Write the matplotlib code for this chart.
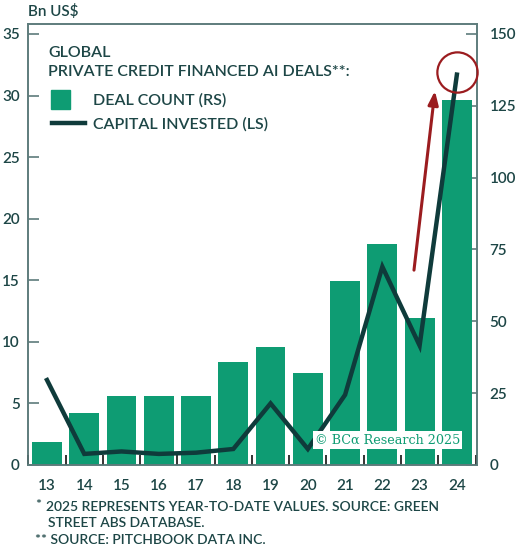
import matplotlib
matplotlib.use("Agg")
import matplotlib.pyplot as plt
from matplotlib.patches import Rectangle
from matplotlib.lines import Line2D
import numpy as np

# data
years = [13, 14, 15, 16, 17, 18, 19, 20, 21, 22, 23, 24]
deal_count = [8, 18, 24, 24, 24, 36, 41, 32, 64, 77, 51, 127]          # right scale
capital_bn = [6.9, 0.9, 1.1, 0.9, 1.0, 1.3, 5.0, 1.3, 5.7, 16.1, 9.7, 31.7]  # left scale
left_ticks = [0, 5, 10, 15, 20, 25, 30, 35]
right_ticks = [0, 25, 50, 75, 100, 125, 150]

GREEN = "#0e9c73"
DARK = "#0f3b3b"
TEXT = "#1d4646"
SPINE = "#5e7c7c"
RED = "#9b1c1f"
FONT = "Lato"

plt.rcParams["font.family"] = [FONT, "DejaVu Sans"]

W, H = 520, 553
fig = plt.figure(figsize=(W / 100, H / 100), dpi=100)
ax = fig.add_axes([28 / W, 1 - 465 / H, (477 - 28) / W, (465 - 24) / H])
ax2 = ax.twinx()

ymax_left = 35.81
ax.set_ylim(0, ymax_left)
ax2.set_ylim(0, ymax_left * 150 / 35)
ax.set_xlim(12.49, 24.54)

ax2.bar(years, deal_count, width=0.8, color=GREEN, zorder=2)
ax.plot(years, capital_bn, color=DARK, lw=3.2, solid_joinstyle="miter", zorder=3)

# put the line axes above the bar axes
ax.set_zorder(ax2.get_zorder() + 1)
ax.patch.set_visible(False)

# highlight: arrow and circle on the 24 peak
ax.annotate("", xy=(23.42, 30.6), xytext=(22.84, 15.6),
            arrowprops=dict(arrowstyle="-|>,head_length=0.8,head_width=0.3",
                            color=RED, lw=2.2), zorder=4)
ax.plot([24], [31.9], marker="o", ms=29, mfc="none", mec=RED, mew=1.6,
        clip_on=False, zorder=4)

ax.set_yticks(left_ticks)
ax2.set_yticks(right_ticks)
ax.set_xticks(years)
ax.set_xticks(np.arange(12.5, 25, 1), minor=True)

for a in (ax, ax2):
    for s in a.spines.values():
        s.set_color(SPINE)
        s.set_linewidth(1.2)
ax.tick_params(axis="y", direction="in", length=8, width=1.2, color=SPINE,
               labelcolor=TEXT, labelsize=11, pad=6)
ax2.tick_params(axis="y", direction="in", length=8, width=1.2, color=SPINE,
                labelcolor=TEXT, labelsize=11, pad=9)
ax.tick_params(axis="x", which="major", length=0, labelcolor=TEXT,
               labelsize=11, pad=10)
ax.tick_params(axis="x", which="minor", direction="in", length=7, width=1.2,
               color="#111111")
for lab in ax.get_yticklabels() + ax2.get_yticklabels() + ax.get_xticklabels():
    lab.set_fontweight("semibold")

fig.text(28 / W, 1 - 12 / H, "Bn US$", color=TEXT, fontsize=11,
         va="center", ha="left", weight="semibold")

# legend built by hand
LEG = dict(color=TEXT, fontsize=11.5, va="center", weight="semibold")
fig.text(48 / W, 1 - 53 / H, "GLOBAL", **LEG)
fig.text(48 / W, 1 - 72 / H, "PRIVATE CREDIT FINANCED AI DEALS**:", **LEG)
fig.patches.append(Rectangle((51 / W, 1 - 109 / H), 19 / W, 19 / H,
                             transform=fig.transFigure, color=GREEN))
fig.lines.append(Line2D([52 / W, 85 / W], [1 - 123 / H, 1 - 123 / H],
                        transform=fig.transFigure, color=DARK, lw=3.2))
fig.text(93 / W, 1 - 100 / H, "DEAL COUNT (RS)", **LEG)
fig.text(93 / W, 1 - 124 / H, "CAPITAL INVESTED (LS)", **LEG)

# watermark
fig.text(315 / W, 1 - 440 / H, "© BCα Research 2025", color=GREEN,
         family="DejaVu Serif", fontsize=9.2, va="center", ha="left",
         bbox=dict(facecolor="white", edgecolor="none", pad=1.5))

# footnotes
NOTE = dict(color=TEXT, fontsize=10, va="center", weight="semibold")
fig.text(35 / W, 1 - 505 / H, "*", **NOTE)
fig.text(46 / W, 1 - 507 / H, "2025 REPRESENTS YEAR-TO-DATE VALUES. SOURCE: GREEN", **NOTE)
fig.text(48 / W, 1 - 523 / H, "STREET ABS DATABASE.", **NOTE)
fig.text(35 / W, 1 - 540 / H, "** SOURCE: PITCHBOOK DATA INC.", **NOTE)

fig.savefig("out.png", dpi=100)
